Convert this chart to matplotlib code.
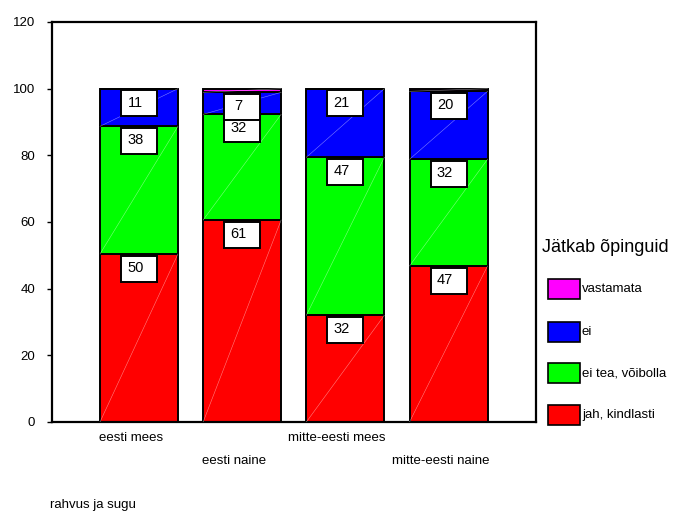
import matplotlib
matplotlib.use("Agg")
import matplotlib.pyplot as plt
from matplotlib.patches import Rectangle
import numpy as np

plt.rcParams['font.family'] = ['Liberation Sans', 'DejaVu Sans']

categories = ["eesti mees", "eesti naine", "mitte-eesti mees", "mitte-eesti naine"]
series_names = ["jah, kindlasti", "ei tea, võibolla", "ei", "vastamata"]
jah = [50.4, 60.6, 32.0, 46.8]
eitea = [38.3, 31.7, 47.4, 32.0]
ei = [11.3, 6.6, 20.6, 20.4]
vastamata = [0.0, 1.1, 0.0, 0.8]
colors = ["#FF0000", "#00FF00", "#0000FF", "#FF00FF"]
yticks = [0, 20, 40, 60, 80, 100, 120]

fig = plt.figure(figsize=(6.84, 5.15), dpi=100)
ax = fig.add_axes([52 / 684, 93 / 515, 484 / 684, 400 / 515])

x = np.arange(1, len(categories) + 1)
width = 0.756
series = [jah, eitea, ei, vastamata]

bottom = np.zeros(len(categories))
for vals, col in zip(series, colors):
    vals = np.array(vals)
    ax.bar(x, vals, width, bottom=bottom, color=col, edgecolor='black', linewidth=1.4, zorder=2)
    for xi, b, v in zip(x, bottom, vals):
        if v > 0.3:
            ax.plot([xi - width / 2, xi + width / 2], [b, b + v], color='white', lw=0.4, alpha=0.5, zorder=3)
    bottom = bottom + vals

# value labels (white boxes near the top of each segment)
bottom = np.zeros(len(categories))
bw, bh = 0.349, 7.8
for vals in series[:3]:
    vals = np.array(vals)
    for xi, b, v in zip(x, bottom, vals):
        top = b + v - 0.5
        ax.add_patch(Rectangle((xi - bw / 2, top - bh), bw, bh, facecolor='white',
                               edgecolor='black', linewidth=1.4, zorder=4))
        ax.text(xi - 0.034, top - 3.7, f"{round(v):d}", ha='center', va='center',
                fontsize=10.5, zorder=5)
    bottom = bottom + vals

ax.set_xlim(0.157, 4.848)
ax.set_ylim(0, 120)
ax.set_yticks(yticks)
ax.set_yticklabels([str(t) for t in yticks], fontsize=9.5)
ax.tick_params(axis='y', direction='out', length=3.6, width=1, pad=8.6)
ax.set_xticks(x)
ax.set_xticklabels([])
ax.tick_params(axis='x', length=0)
for s in ax.spines.values():
    s.set_linewidth(1.6)

# staggered category labels
for i, (xi, c) in enumerate(zip(x, categories)):
    ypix = 438 if i % 2 == 0 else 461.5
    dy = (422 - ypix) * 72 / 100
    ax.annotate(c, xy=(xi - 0.08, 0), xycoords='data', xytext=(0, dy),
                textcoords='offset points', ha='center', va='center', fontsize=9.5,
                annotation_clip=False)

fig.text(50 / 684, 1 - 505 / 515, "rahvus ja sugu", ha='left', va='center', fontsize=9.5)

# legend
fig.text(542 / 684, 1 - 247 / 515, "Jätkab õpinguid", ha='left', va='center', fontsize=13)
leg_y = [289, 332, 373, 415]
leg_labels = ["vastamata", "ei", "ei tea, võibolla", "jah, kindlasti"]
leg_cols = ["#FF00FF", "#0000FF", "#00FF00", "#FF0000"]
for yy, lab, col in zip(leg_y, leg_labels, leg_cols):
    fig.patches.append(Rectangle((548 / 684, 1 - (yy + 10) / 515), 32 / 684, 20 / 515,
                                 transform=fig.transFigure, facecolor=col,
                                 edgecolor='black', linewidth=1.2))
    fig.text(582 / 684, 1 - yy / 515, lab, ha='left', va='center', fontsize=9.5)

fig.savefig("out.png", dpi=100)
